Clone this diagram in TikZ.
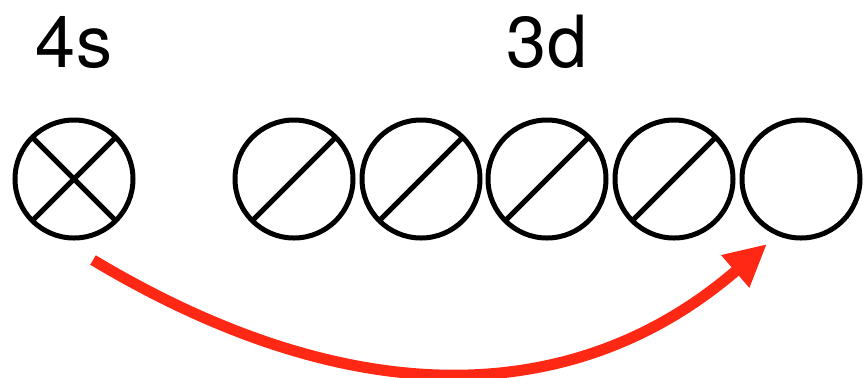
\documentclass[tikz,border=0pt]{standalone}
\usepackage{fontspec}
\setmainfont{TeX Gyre Heros}
\usepackage{xcolor}
\definecolor{jumpred}{RGB}{255,40,20}
\usepackage{tikz}
\usetikzlibrary{arrows.meta}

\begin{document}
\begin{tikzpicture}[
  x=0.5pt, y=-0.5pt,
  orb/.style={draw, circle, line width=2.5pt, minimum size=59pt, inner sep=0pt, outer sep=0pt},
  lbl/.style={anchor=base, font=\fontsize{36pt}{40pt}\selectfont},
  spin/.style={line width=2.5pt},
  jump/.style={-{Triangle[length=21pt, width=20pt]}, line width=5.5pt, color=jumpred}
]
  \useasboundingbox (0,0) rectangle (863,377);

  % labels
  \node[lbl] (L4s) at (74,67)  {4s};
  \node[lbl] (L3d) at (547,67) {3d};

  % orbitals
  \node[orb] (s4) at (74,179) {};
  \node[orb] (d1) at (294,179) {};
  \node[orb] (d2) at (421,179) {};
  \node[orb] (d3) at (547,179) {};
  \node[orb] (d4) at (674,179) {};
  \node[orb] (d5) at (801,179) {};

  % electrons
  \draw[spin] (s4.135) -- (s4.-45);
  \draw[spin] (s4.45) -- (s4.-135);
  \foreach \o in {d1,d2,d3,d4}
    \draw[spin] (\o.-135) -- (\o.45);

  % promotion
  \coordinate (from) at ([shift={(19,81)}]s4.center);
  \coordinate (to)   at ([shift={(-34,65)}]d5.center);
  \draw[jump] (from) .. controls (352,415) and (576,409) .. (to);
\end{tikzpicture}
\end{document}
